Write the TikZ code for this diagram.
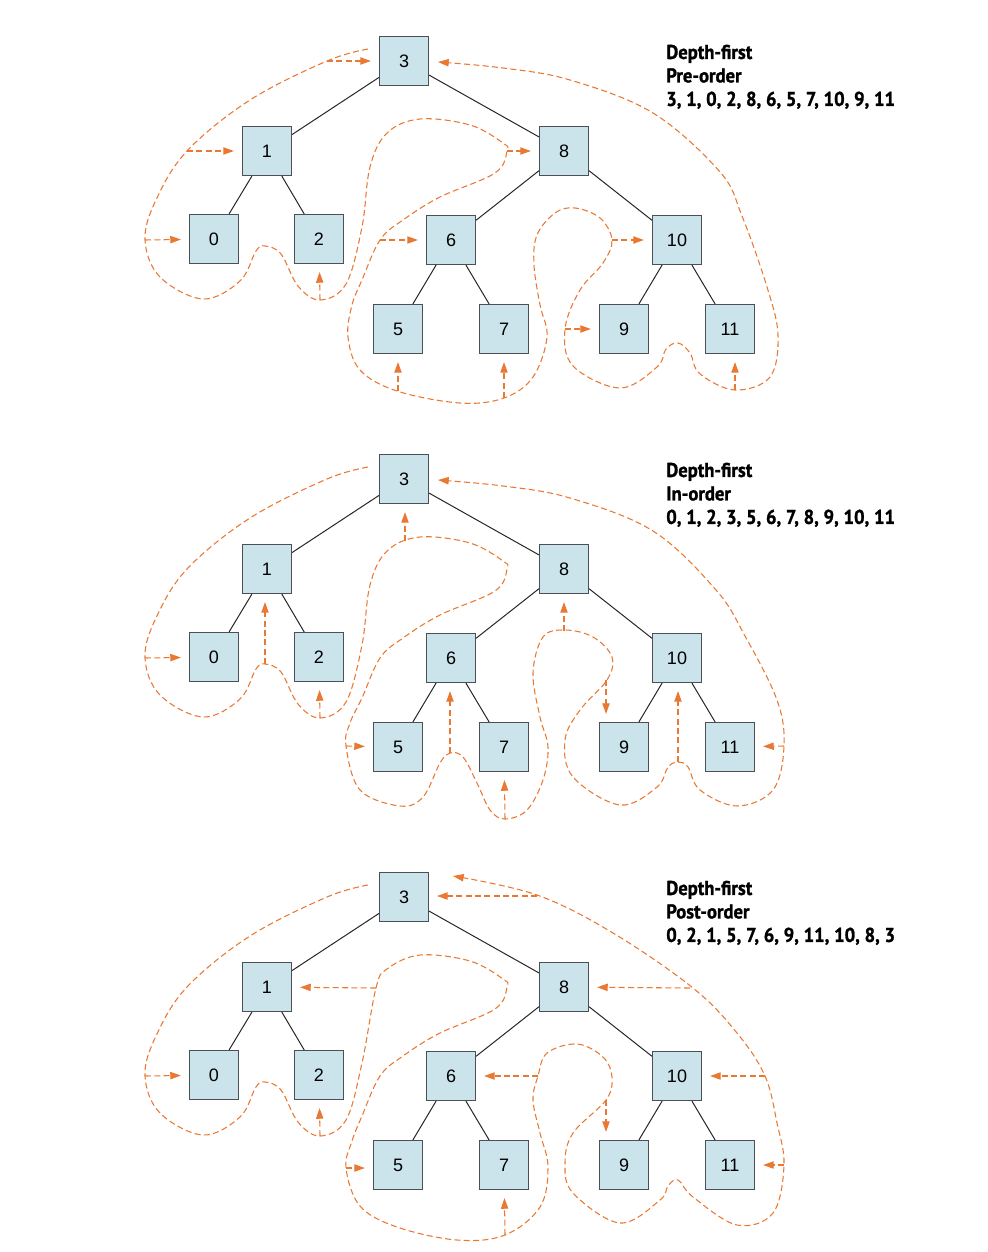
\documentclass[tikz,border=0pt]{standalone}
\usepackage{fontspec}
\usepackage{tikz}
\usetikzlibrary{arrows.meta}
\newfontfamily\digitfont{Liberation Sans}
\newfontfamily\headfont{PT Sans}[FakeStretch=0.93, BoldFeatures={FakeBold=1.2}]
\definecolor{boxfill}{RGB}{203,227,234}
\definecolor{boxline}{RGB}{75,80,84}
\definecolor{tourorange}{RGB}{233,120,50}

\begin{document}
\begin{tikzpicture}[x=0.75pt,y=0.75pt,yscale=-1,xscale=1,
    box/.style={draw=boxline, fill=boxfill, line width=1.1pt, minimum size=36.5pt, inner sep=0pt,
        font=\digitfont\fontsize{13.5}{16}\selectfont},
    link/.style={line width=0.75pt, black!85},
    tour/.style={draw=tourorange, line width=0.8pt, dash pattern=on 4.5pt off 2.5pt},
    visit/.style={tour, -{Triangle[length=8pt,width=5.5pt]}, shorten >=6pt},
    heading/.style={anchor=north west, inner sep=0.75pt, align=left,
        font=\headfont\bfseries\fontsize{15}{17.6}\selectfont}]
        \useasboundingbox (0,0) rectangle (988,1252);

        %%% Pre-order tree
        %Shape: Square
        \draw (404,61) node (a3) [box] {3};
        \draw (267,151) node (a1) [box] {1};
        \draw (564,151) node (a8) [box] {8};
        \draw (214,239) node (a0) [box] {0};
        \draw (319,239) node (a2) [box] {2};
        \draw (451,240) node (a6) [box] {6};
        \draw (677,240) node (a10) [box] {10};
        \draw (398,329) node (a5) [box] {5};
        \draw (504,329) node (a7) [box] {7};
        \draw (624,329) node (a9) [box] {9};
        \draw (730,329) node (a11) [box] {11};
        %Straight Lines
        \draw [link] (a3) -- (a1) (a3) -- (a8) (a1) -- (a0) (a1) -- (a2)
            (a8) -- (a6) (a8) -- (a10) (a6) -- (a5) (a6) -- (a7) (a10) -- (a9) (a10) -- (a11);
        %Curve Lines
        \draw [tour, -{Triangle[length=8pt,width=5.5pt]}] plot [smooth, tension=0.6] coordinates {
            (368,49) (327,61) (250,100) (187,151) (156,200) (145,240) (160,277) (203,299)
            (240,281) (256,251) (265,246) (281,254) (298,286) (320,300) (346,284) (362,227)
            (370,167) (387,133) (420,119) (470,125) (503,143) (507,151) (495,173) (440,197)
            (403,220) (380,240) (362,280) (352,305) (348,337) (360,370) (397,391) (460,403)
            (504,398) (533,377) (547,337) (540,305) (534,265) (537,235) (555,213) (575,208)
            (600,218) (612,240) (603,263) (580,290) (565,329) (573,366) (620,388) (657,367)
            (666,349) (678,343) (690,353) (700,374) (735,390) (770,377) (778,335) (767,287)
            (742,216) (720,172) (653,113) (570,80) (503,68) (438,62)};
        \coordinate (pa3) at (327,61);
        \coordinate (pa1) at (187,151);
        \coordinate (pa0) at (145,240);
        \coordinate (pa2) at (320,300);
        \coordinate (pa8) at (507,151);
        \coordinate (pa6) at (380,240);
        \coordinate (pa5) at (398,391);
        \coordinate (pa7) at (504,398);
        \coordinate (pa10) at (612,240);
        \coordinate (pa9) at (565,329);
        \coordinate (pa11) at (735,390);
        \draw [visit] (pa3) -- (a3);
        \draw [visit] (pa1) -- (a1);
        \draw [visit] (pa0) -- (a0);
        \draw [visit] (pa2) -- (a2);
        \draw [visit] (pa8) -- (a8);
        \draw [visit] (pa6) -- (a6);
        \draw [visit] (pa5) -- (a5);
        \draw [visit] (pa7) -- (a7);
        \draw [visit] (pa10) -- (a10);
        \draw [visit] (pa9) -- (a9);
        \draw [visit] (pa11) -- (pa11 |- a11.south);
        % Text Node
        \draw (665,43.5) node (ta) [heading] {Depth-first\\Pre-order\\3, 1, 0, 2, 8, 6, 5, 7, 10, 9, 11};

        %%% In-order tree
        %Shape: Square
        \draw (404,479) node (b3) [box] {3};
        \draw (267,569) node (b1) [box] {1};
        \draw (564,569) node (b8) [box] {8};
        \draw (214,657) node (b0) [box] {0};
        \draw (319,657) node (b2) [box] {2};
        \draw (451,658) node (b6) [box] {6};
        \draw (677,658) node (b10) [box] {10};
        \draw (398,747) node (b5) [box] {5};
        \draw (504,747) node (b7) [box] {7};
        \draw (624,747) node (b9) [box] {9};
        \draw (730,747) node (b11) [box] {11};
        %Straight Lines
        \draw [link] (b3) -- (b1) (b3) -- (b8) (b1) -- (b0) (b1) -- (b2)
            (b8) -- (b6) (b8) -- (b10) (b6) -- (b5) (b6) -- (b7) (b10) -- (b9) (b10) -- (b11);
        %Curve Lines
        \draw [tour, -{Triangle[length=8pt,width=5.5pt]}] plot [smooth, tension=0.6] coordinates {
            (368,467) (327,479) (250,518) (187,569) (156,618) (145,658) (160,695) (203,717)
            (240,699) (256,669) (265,664) (281,672) (298,704) (320,718) (346,702) (362,645)
            (370,585) (387,551) (420,537) (470,543) (503,561) (507,569) (495,591) (440,615)
            (403,638) (380,658) (362,698) (350,723) (346,746) (360,790) (400,806) (423,797)
            (440,763) (450,753) (463,757) (477,783) (490,810) (505,819) (527,810) (543,780)
            (548,747) (540,717) (533,673) (543,637) (565,630) (593,637) (612,657) (607,680)
            (580,710) (565,740) (573,777) (620,805) (657,787) (668,767) (678,762) (688,767)
            (700,790) (737,806) (773,790) (784,746) (777,700) (745,636) (716,590) (653,531)
            (570,498) (503,486) (438,480)};
        \coordinate (pb0) at (145,658);
        \coordinate (pb1) at (265,664);
        \coordinate (pb2) at (320,718);
        \coordinate (pb3) at (405,541);
        \coordinate (pb5) at (346,746);
        \coordinate (pb6) at (450,753);
        \coordinate (pb7) at (505,819);
        \coordinate (pb8) at (564,631);
        \coordinate (pb9) at (606,680);
        \coordinate (pb10) at (678,762);
        \coordinate (pb11) at (784,746);
        \draw [visit] (pb0) -- (b0);
        \draw [visit] (pb1) -- (pb1 |- b1.south);
        \draw [visit] (pb2) -- (b2);
        \draw [visit] (pb3) -- (pb3 |- b3.south);
        \draw [visit] (pb5) -- (b5);
        \draw [visit] (pb6) -- (pb6 |- b6.south);
        \draw [visit] (pb7) -- (b7);
        \draw [visit] (pb8) -- (b8);
        \draw [visit] (pb9) -- (pb9 |- b9.north);
        \draw [visit] (pb10) -- (pb10 |- b10.south);
        \draw [visit] (pb11) -- (b11);
        % Text Node
        \draw (665,461.5) node (tb) [heading] {Depth-first\\In-order\\0, 1, 2, 3, 5, 6, 7, 8, 9, 10, 11};

        %%% Post-order tree
        %Shape: Square
        \draw (404,897) node (c3) [box] {3};
        \draw (267,987) node (c1) [box] {1};
        \draw (564,987) node (c8) [box] {8};
        \draw (214,1075) node (c0) [box] {0};
        \draw (319,1075) node (c2) [box] {2};
        \draw (451,1076) node (c6) [box] {6};
        \draw (677,1076) node (c10) [box] {10};
        \draw (398,1165) node (c5) [box] {5};
        \draw (504,1165) node (c7) [box] {7};
        \draw (624,1165) node (c9) [box] {9};
        \draw (730,1165) node (c11) [box] {11};
        %Straight Lines
        \draw [link] (c3) -- (c1) (c3) -- (c8) (c1) -- (c0) (c1) -- (c2)
            (c8) -- (c6) (c8) -- (c10) (c6) -- (c5) (c6) -- (c7) (c10) -- (c9) (c10) -- (c11);
        %Curve Lines
        \draw [tour, -{Triangle[length=8pt,width=5.5pt]}] plot [smooth, tension=0.6] coordinates {
            (368,885) (327,897) (250,936) (187,987) (156,1036) (145,1076) (160,1113) (203,1135)
            (240,1117) (256,1087) (265,1082) (281,1090) (298,1122) (320,1136) (346,1120) (362,1063)
            (376,988) (387,969) (420,955) (470,961) (503,979) (507,987) (495,1009) (440,1033)
            (403,1056) (380,1076) (362,1116) (352,1141) (346,1168) (360,1206) (397,1227) (457,1240)
            (505,1235) (540,1207) (548,1167) (540,1133) (533,1100) (538,1076) (547,1053) (577,1044)
            (603,1057) (612,1077) (606,1100) (573,1133) (565,1163) (573,1193) (620,1223) (660,1200)
            (668,1186) (678,1180) (693,1197) (737,1225) (773,1213) (784,1165) (777,1123) (765,1076)
            (737,1033) (693,988) (613,933) (537,895) (453,876)};
        \coordinate (pc0) at (145,1076);
        \coordinate (pc2) at (320,1136);
        \coordinate (pc1) at (376,988);
        \coordinate (pc5) at (346,1168);
        \coordinate (pc7) at (505,1235);
        \coordinate (pc6) at (538,1076);
        \coordinate (pc9) at (606,1100);
        \coordinate (pc11) at (784,1165);
        \coordinate (pc10) at (765,1076);
        \coordinate (pc8) at (690,988);
        \coordinate (pc3) at (537,896);
        \draw [visit] (pc0) -- (c0);
        \draw [visit] (pc2) -- (c2);
        \draw [visit] (pc1) -- (c1);
        \draw [visit] (pc5) -- (pc5 -| c5.west);
        \draw [visit] (pc7) -- (c7);
        \draw [visit] (pc6) -- (c6);
        \draw [visit] (pc9) -- (pc9 |- c9.north);
        \draw [visit] (pc11) -- (c11);
        \draw [visit] (pc10) -- (c10);
        \draw [visit] (pc8) -- (c8);
        \draw [visit] (pc3) -- (pc3 -| c3.east);
        % Text Node
        \draw (665,879.5) node (tc) [heading] {Depth-first\\Post-order\\0, 2, 1, 5, 7, 6, 9, 11, 10, 8, 3};
\end{tikzpicture}
\end{document}
